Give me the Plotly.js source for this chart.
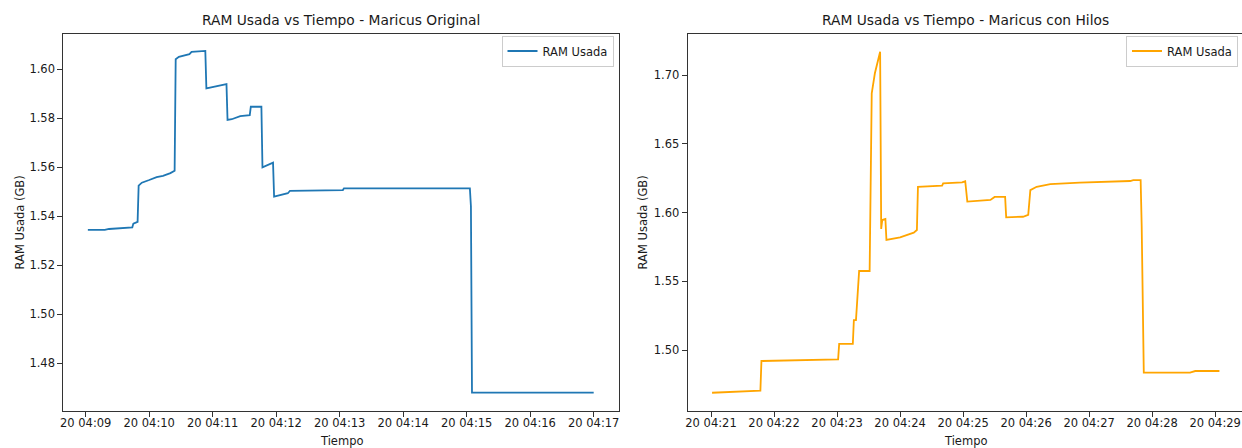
<!DOCTYPE html>
<html>
<head>
<meta charset="utf-8">
<script src="https://cdn.plot.ly/plotly-3.0.1.min.js"></script>
<style>
html,body{margin:0;padding:0;overflow:hidden;background:#fff;}
#chart{width:1242px;height:448px;}
</style>
</head>
<body>
<div id="chart"></div>
<script>
// ---- data ----
const dateDay = '2024-01-20';

const originalTimes = ['04:09:02','04:09:18','04:09:22','04:09:32','04:09:36','04:09:44','04:09:45','04:09:49','04:09:50','04:09:53',
  '04:10:00','04:10:07','04:10:13','04:10:20','04:10:24','04:10:25','04:10:28','04:10:38','04:10:40','04:10:53',
  '04:10:54','04:10:59','04:11:13','04:11:14','04:11:18','04:11:26','04:11:35','04:11:36','04:11:46','04:11:47',
  '04:11:57','04:11:58','04:12:04','04:12:11','04:12:13','04:13:03','04:13:04','04:15:03','04:15:04','04:15:05','04:17:00'];
const originalRam = [1.5344,1.5344,1.5348,1.5350,1.5353,1.5355,1.5370,1.5377,1.5525,1.5537,
  1.5548,1.5560,1.5565,1.5576,1.5586,1.6041,1.6051,1.6062,1.6071,1.6075,
  1.5922,1.5927,1.5939,1.5793,1.5796,1.5809,1.5813,1.5847,1.5847,1.5600,
  1.5619,1.5480,1.5487,1.5494,1.5504,1.5507,1.5514,1.5514,1.5440,1.4680,1.4680];

const hilosTimes = ['04:21:01','04:21:28','04:21:47','04:21:48','04:22:18','04:23:01','04:23:02','04:23:15','04:23:16','04:23:18',
  '04:23:21','04:23:31','04:23:33','04:23:36','04:23:41','04:23:42','04:23:43','04:23:46','04:23:47','04:24:00',
  '04:24:13','04:24:16','04:24:17','04:24:40','04:24:41','04:24:59','04:25:02','04:25:04','04:25:26','04:25:30',
  '04:25:40','04:25:41','04:25:57','04:26:02','04:26:04','04:26:10','04:26:23','04:26:48','04:26:51','04:27:39',
  '04:27:42','04:27:49','04:27:50','04:27:52','04:28:36','04:28:41','04:29:04'];
const hilosRam = [1.4689,1.4697,1.4704,1.4920,1.4927,1.4932,1.5044,1.5044,1.5218,1.5218,
  1.5575,1.5575,1.6868,1.7014,1.7171,1.5881,1.5946,1.5953,1.5801,1.5820,
  1.5854,1.5873,1.6188,1.6196,1.6213,1.6220,1.6228,1.6080,1.6092,1.6114,
  1.6114,1.5966,1.5970,1.5983,1.6164,1.6188,1.6208,1.6213,1.6218,1.6230,
  1.6237,1.6237,1.5902,1.4835,1.4835,1.4847,1.4847];

const titles = ['RAM Usada vs Tiempo - Maricus Original', 'RAM Usada vs Tiempo - Maricus con Hilos'];
const seriesName = 'RAM Usada';
const xLabel = 'Tiempo';
const yLabel = 'RAM Usada (GB)';

// ---- layout helpers ----
const W = 1242, H = 448;
const px = v => Math.min(1, v / W);
const py = v => (H - v) / H;
const FONT = 'DejaVu Sans, sans-serif';
const TXT = '#1a1a1a';

const toStamp = t => dateDay + ' ' + t;

const traces = [
  {x: originalTimes.map(toStamp), y: originalRam, type: 'scatter', mode: 'lines', name: seriesName,
   line: {color: '#1f77b4', width: 1.8}, xaxis: 'x', yaxis: 'y', legend: 'legend'},
  {x: hilosTimes.map(toStamp), y: hilosRam, type: 'scatter', mode: 'lines', name: seriesName,
   line: {color: '#ffa500', width: 1.8}, xaxis: 'x2', yaxis: 'y2', legend: 'legend2'}
];

const axCommon = {
  showline: true, mirror: true, linecolor: '#333', linewidth: 1,
  ticks: 'outside', ticklen: 5, tickwidth: 1, tickcolor: '#333',
  showgrid: false, zeroline: false,
  tickfont: {family: FONT, size: 11.5, color: TXT}
};

const yDom = [py(411), py(34)];

const layout = {
  width: W, height: H,
  margin: {l: 0, r: 0, t: 0, b: 0},
  paper_bgcolor: '#fff', plot_bgcolor: '#fff',
  font: {family: FONT, color: TXT},
  xaxis: Object.assign({}, axCommon, {
    domain: [px(63.3), px(619.3)], anchor: 'y', type: 'date',
    range: [toStamp('04:08:38.8'), toStamp('04:17:24.2')],
    tick0: toStamp('04:09:00'), dtick: 60000, tickformat: '%d %H:%M', ticklabelstandoff: -4
  }),
  yaxis: Object.assign({}, axCommon, {
    domain: yDom, anchor: 'x', range: [1.4605, 1.6144],
    tick0: 1.48, dtick: 0.02, tickformat: '.2f'
  }),
  xaxis2: Object.assign({}, axCommon, {
    domain: [px(687.7), 1], anchor: 'y2', type: 'date',
    range: [toStamp('04:20:37.8'), toStamp('04:29:25.5')],
    tick0: toStamp('04:21:00'), dtick: 60000, tickformat: '%d %H:%M', ticklabelstandoff: -4
  }),
  yaxis2: Object.assign({}, axCommon, {
    domain: yDom, anchor: 'x2', range: [1.4556, 1.730], mirror: false,
    tick0: 1.50, dtick: 0.05, tickformat: '.2f'
  }),
  legend: {x: px(613.5), y: py(35.5), xanchor: 'right', yanchor: 'top',
    bgcolor: 'rgba(255,255,255,0.8)', bordercolor: '#cccccc', borderwidth: 1,
    font: {family: FONT, size: 11.5, color: TXT}},
  legend2: {x: px(1238), y: py(35.5), xanchor: 'right', yanchor: 'top',
    bgcolor: 'rgba(255,255,255,0.8)', bordercolor: '#cccccc', borderwidth: 1,
    font: {family: FONT, size: 11.5, color: TXT}},
  showlegend: true,
  annotations: [
    {text: titles[0], xref: 'paper', yref: 'paper', x: px(341.3), y: py(20), xanchor: 'center', yanchor: 'middle',
     showarrow: false, font: {family: FONT, size: 13.8, color: TXT}},
    {text: titles[1], xref: 'paper', yref: 'paper', x: px(965.7), y: py(20), xanchor: 'center', yanchor: 'middle',
     showarrow: false, font: {family: FONT, size: 13.8, color: TXT}},
    {text: xLabel, xref: 'paper', yref: 'paper', x: px(341.3), y: py(441), xanchor: 'center', yanchor: 'middle',
     showarrow: false, font: {family: FONT, size: 11.5, color: TXT}},
    {text: xLabel, xref: 'paper', yref: 'paper', x: px(965.7), y: py(441), xanchor: 'center', yanchor: 'middle',
     showarrow: false, font: {family: FONT, size: 11.5, color: TXT}},
    {text: yLabel, xref: 'paper', yref: 'paper', x: px(19), y: py(222.5), xanchor: 'center', yanchor: 'middle',
     textangle: -90, showarrow: false, font: {family: FONT, size: 11.5, color: TXT}},
    {text: yLabel, xref: 'paper', yref: 'paper', x: px(642), y: py(222.5), xanchor: 'center', yanchor: 'middle',
     textangle: -90, showarrow: false, font: {family: FONT, size: 11.5, color: TXT}}
  ]
};

Plotly.newPlot('chart', traces, layout, {staticPlot: true, displayModeBar: false});
</script>
</body>
</html>
